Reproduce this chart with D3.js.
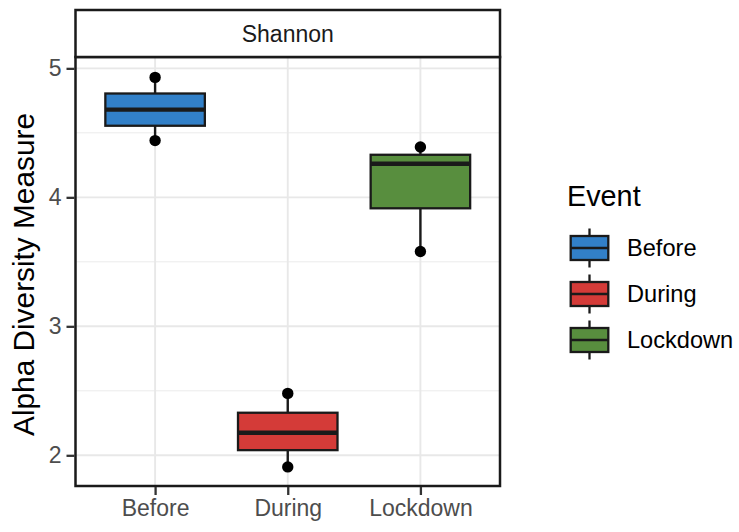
<!DOCTYPE html>
<html>
<head>
<meta charset="utf-8">
<script src="https://cdn.jsdelivr.net/npm/d3@7"></script>
<style>
  html, body { margin: 0; padding: 0; background: #fff; }
  svg { display: block; font-family: "Liberation Sans", Arial, Helvetica, sans-serif; }
</style>
</head>
<body>
<svg id="chart" width="739" height="532"></svg>
<script>
// ---- data ----
const categories = ["Before", "During", "Lockdown"];
const mins    = [4.44, 1.91, 3.58];
const q1s     = [4.555, 2.04, 3.915];
const medians = [4.68, 2.175, 4.26];
const q3s     = [4.805, 2.33, 4.33];
const maxs    = [4.93, 2.48, 4.39];
const pointValues = [[4.93, 4.44], [2.48, 1.91], [4.39, 3.58]];
const colors = ["#3280C8", "#D43B38", "#588E3E"];
const yTicks = [2, 3, 4, 5];
const yMinor = [2.5, 3.5, 4.5];
const facetLabel = "Shannon";
const yTitle = "Alpha Diversity Measure";
const legendTitle = "Event";

// ---- layout ----
const svg = d3.select("#chart");
const P = { left: 75.5, right: 500, top: 57, bottom: 486, stripTop: 10 };

const x = d3.scalePoint().domain(categories).range([P.left, P.right]).padding(0.6);
const y = d3.scaleLinear().domain([1.762, 5.088]).range([P.bottom, P.top]);
const boxW = x.step() * 0.75;

const data = categories.map((c, i) => ({
  cat: c, min: mins[i], q1: q1s[i], med: medians[i], q3: q3s[i], max: maxs[i],
  pts: pointValues[i], color: colors[i]
}));

// panel background
svg.append("rect").attr("x", P.left).attr("y", P.top)
  .attr("width", P.right - P.left).attr("height", P.bottom - P.top).attr("fill", "#fff");

// grid
const grid = svg.append("g");
grid.selectAll(".minor").data(yMinor).join("line")
  .attr("x1", P.left).attr("x2", P.right)
  .attr("y1", d => y(d)).attr("y2", d => y(d))
  .attr("stroke", "#EBEBEB").attr("stroke-width", 1);
grid.selectAll(".major").data(yTicks).join("line")
  .attr("x1", P.left).attr("x2", P.right)
  .attr("y1", d => y(d)).attr("y2", d => y(d))
  .attr("stroke", "#E8E8E8").attr("stroke-width", 1.9);
grid.selectAll(".vmajor").data(categories).join("line")
  .attr("x1", d => x(d)).attr("x2", d => x(d))
  .attr("y1", P.top).attr("y2", P.bottom)
  .attr("stroke", "#E8E8E8").attr("stroke-width", 1.9);

// boxes
const g = svg.append("g");
const box = g.selectAll(".box").data(data).join("g");
box.append("line")
  .attr("x1", d => x(d.cat)).attr("x2", d => x(d.cat))
  .attr("y1", d => y(d.max)).attr("y2", d => y(d.q3))
  .attr("stroke", "#1a1a1a").attr("stroke-width", 2.4);
box.append("line")
  .attr("x1", d => x(d.cat)).attr("x2", d => x(d.cat))
  .attr("y1", d => y(d.q1)).attr("y2", d => y(d.min))
  .attr("stroke", "#1a1a1a").attr("stroke-width", 2.4);
box.append("rect")
  .attr("x", d => x(d.cat) - boxW / 2).attr("width", boxW)
  .attr("y", d => y(d.q3)).attr("height", d => y(d.q1) - y(d.q3))
  .attr("fill", d => d.color).attr("stroke", "#1a1a1a").attr("stroke-width", 2.3);
box.append("line")
  .attr("x1", d => x(d.cat) - boxW / 2).attr("x2", d => x(d.cat) + boxW / 2)
  .attr("y1", d => y(d.med)).attr("y2", d => y(d.med))
  .attr("stroke", "#1a1a1a").attr("stroke-width", 4.4);
box.selectAll("circle").data(d => d.pts.map(v => ({ cat: d.cat, v }))).join("circle")
  .attr("cx", d => x(d.cat)).attr("cy", d => y(d.v)).attr("r", 5.7).attr("fill", "#000");

// panel border
svg.append("rect").attr("x", P.left).attr("y", P.top)
  .attr("width", P.right - P.left).attr("height", P.bottom - P.top)
  .attr("fill", "none").attr("stroke", "#1a1a1a").attr("stroke-width", 2.5);

// strip
svg.append("rect").attr("x", P.left).attr("y", P.stripTop)
  .attr("width", P.right - P.left).attr("height", P.top - P.stripTop)
  .attr("fill", "#fff").attr("stroke", "#1a1a1a").attr("stroke-width", 2.5);
svg.append("text").attr("x", (P.left + P.right) / 2).attr("y", (P.stripTop + P.top) / 2)
  .attr("text-anchor", "middle").attr("dominant-baseline", "central")
  .attr("font-size", 23).attr("fill", "#1a1a1a").text(facetLabel);

// axes
const yAxis = d3.axisLeft(y).tickValues(yTicks).tickSize(8).tickPadding(5).tickFormat(d3.format("d"));
const ya = svg.append("g").attr("transform", `translate(${P.left - 1},0)`).call(yAxis);
ya.select(".domain").remove();
ya.selectAll(".tick line").attr("stroke", "#333").attr("stroke-width", 2.3);
ya.selectAll(".tick text").attr("font-size", 23).attr("fill", "#4D4D4D")
  .attr("font-family", "Liberation Sans, Arial, sans-serif");

const xAxis = d3.axisBottom(x).tickSize(8).tickPadding(5);
const xa = svg.append("g").attr("transform", `translate(0,${P.bottom + 1})`).call(xAxis);
xa.select(".domain").remove();
xa.selectAll(".tick line").attr("stroke", "#333").attr("stroke-width", 2.3);
xa.selectAll(".tick text").attr("font-size", 23).attr("fill", "#4D4D4D")
  .attr("font-family", "Liberation Sans, Arial, sans-serif");

// y title
svg.append("text")
  .attr("transform", `translate(34,${(P.top + P.bottom) / 2 + 3}) rotate(-90)`)
  .attr("text-anchor", "middle").attr("font-size", 29.8).attr("fill", "#000").text(yTitle);

// legend
const L = { x: 567, titleY: 206, keyX: 570.7, keyW: 37.6, keyH: 24, firstCenter: 248, step: 46, labelX: 627 };
svg.append("text").attr("x", L.x).attr("y", L.titleY).attr("font-size", 28.8).attr("fill", "#000").text(legendTitle);
const leg = svg.append("g").selectAll("g").data(data).join("g")
  .attr("transform", (d, i) => `translate(0,${L.firstCenter + i * L.step})`);
leg.append("line").attr("x1", L.keyX + L.keyW / 2).attr("x2", L.keyX + L.keyW / 2)
  .attr("y1", -19.5).attr("y2", 19.5).attr("stroke", "#1a1a1a").attr("stroke-width", 2.3);
leg.append("rect").attr("x", L.keyX).attr("y", -L.keyH / 2).attr("width", L.keyW).attr("height", L.keyH)
  .attr("fill", d => d.color).attr("stroke", "#1a1a1a").attr("stroke-width", 2.3);
leg.append("line").attr("x1", L.keyX).attr("x2", L.keyX + L.keyW).attr("y1", 0).attr("y2", 0)
  .attr("stroke", "#1a1a1a").attr("stroke-width", 2.6);
leg.append("text").attr("x", L.labelX).attr("y", 0).attr("dominant-baseline", "central")
  .attr("font-size", 23.6).attr("fill", "#000").text(d => d.cat);
</script>
</body>
</html>
